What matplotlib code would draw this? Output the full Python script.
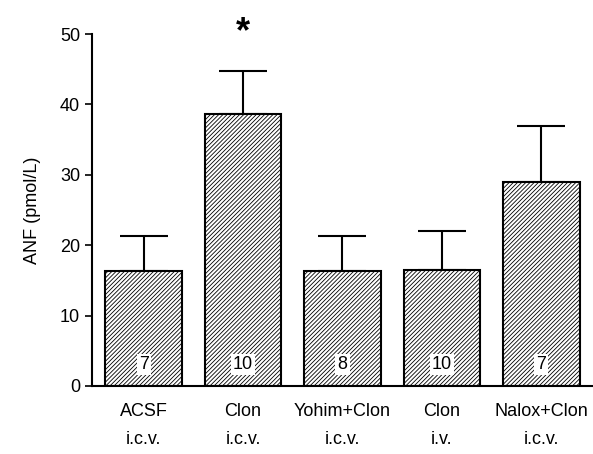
import matplotlib
matplotlib.use("Agg")
import matplotlib.pyplot as plt

groups = ["ACSF", "Clon", "Yohim+Clon", "Clon", "Nalox+Clon"]
routes = ["i.c.v.", "i.c.v.", "i.c.v.", "i.v.", "i.c.v."]
means = [16.3, 38.6, 16.3, 16.5, 29.0]
sem = [5.0, 6.1, 5.0, 5.5, 7.9]
n_vals = ["7", "10", "8", "10", "7"]
signif = ["", "*", "", "", ""]

plt.rcParams['font.family'] = ['Liberation Sans', 'DejaVu Sans']
plt.rcParams['hatch.linewidth'] = 0.6

fig = plt.figure(figsize=(5.93, 4.54), dpi=100)
ax = fig.add_axes([0.155, 0.150, 0.845, 0.775])

x = list(range(len(means)))
ax.bar(x, means, width=0.77, color='white', edgecolor='black', linewidth=1.5,
       hatch='////////', zorder=2)
ax.errorbar(x, means, yerr=[[0]*len(sem), sem], fmt='none', ecolor='black',
            elinewidth=1.5, capsize=17, capthick=1.5, zorder=1)

for xi, n in zip(x, n_vals):
    ax.text(xi, 3.0, n, ha='center', va='center', fontsize=13,
            bbox=dict(boxstyle='square,pad=0.12', fc='white', ec='none'), zorder=3)

for xi, s, m, e in zip(x, signif, means, sem):
    if s:
        ax.text(xi, 50.2, s, ha='center', va='center', fontsize=26,
                fontweight='bold', clip_on=False)

ax.set_xlim(-0.52, 4.52)
ax.set_ylim(0, 50)
ax.set_yticks([0, 10, 20, 30, 40, 50])
ax.set_xticks(x)
ax.set_xticklabels([f"{g}\n{r}" for g, r in zip(groups, routes)], fontsize=13,
                   linespacing=1.85)
ax.tick_params(axis='x', length=0, pad=12)
ax.tick_params(axis='y', length=5, width=1.2, labelsize=13, direction='out')
ax.spines['top'].set_visible(False)
ax.spines['right'].set_visible(False)
ax.spines['left'].set_linewidth(1.5)
ax.spines['bottom'].set_linewidth(1.5)
ax.set_ylabel("ANF (pmol/L)", fontsize=13, labelpad=14)

fig.savefig("out.png", dpi=100)
